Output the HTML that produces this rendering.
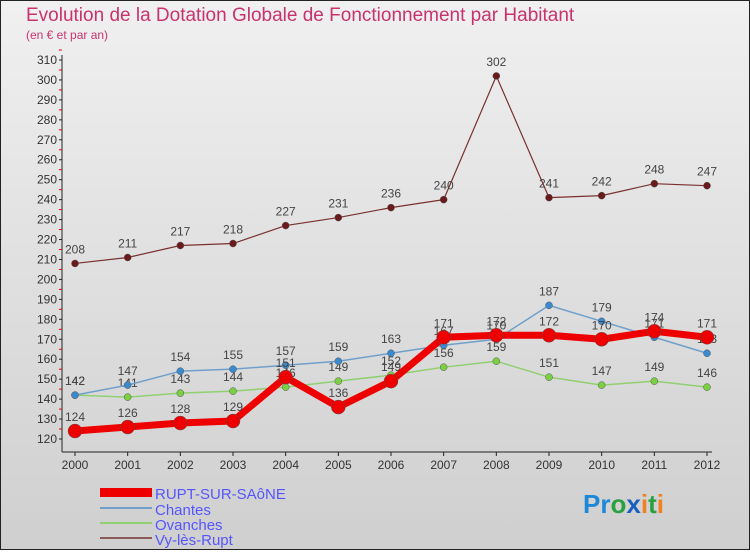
<!DOCTYPE html>
<html><head><meta charset="utf-8"><style>
body{margin:0;width:750px;height:550px;overflow:hidden;font-family:"Liberation Sans",sans-serif}
svg text{font-family:"Liberation Sans",sans-serif}
</style></head><body>
<svg id="c" width="750" height="550" xmlns="http://www.w3.org/2000/svg">
<defs><linearGradient id="bg" x1="0" y1="0" x2="0" y2="1"><stop offset="0" stop-color="#f0f0f0"/><stop offset="1" stop-color="#cfcfcf"/></linearGradient></defs>
<rect x="0.5" y="0.5" width="749" height="549" fill="url(#bg)" stroke="#222"/>
<text x="26" y="21" font-size="19" fill="#c8336e">Evolution de la Dotation Globale de Fonctionnement par Habitant</text>
<text x="26" y="39" font-size="12" fill="#c8336e">(en € et par an)</text>
<g id="axes"></g><g id="series"></g>
<g>
<rect x="100" y="488" width="52" height="9" fill="#ee0000"/>
<text x="155" y="499" font-size="15" fill="#5555ff">RUPT-SUR-SAôNE</text>
<rect x="100" y="507" width="52" height="2" fill="#6fa0cc"/>
<text x="155" y="515" font-size="15" fill="#5555ff">Chantes</text>
<rect x="100" y="522" width="52" height="2" fill="#90d070"/>
<text x="155" y="530" font-size="15" fill="#5555ff">Ovanches</text>
<rect x="100" y="537" width="52" height="2" fill="#8a5a5a"/>
<text x="155" y="545" font-size="15" fill="#5555ff">Vy-lès-Rupt</text>
</g>
<g font-size="26" font-weight="bold">
<text x="583" y="513"><tspan fill="#1e88d8">Pr</tspan><tspan fill="#2aa040">o</tspan><tspan fill="#1a5fc0">x</tspan><tspan fill="#f08020">i</tspan><tspan fill="#2aa040">t</tspan><tspan fill="#f08020">i</tspan></text>
</g>
</svg>
<script>
const years=[2000,2001,2002,2003,2004,2005,2006,2007,2008,2009,2010,2011,2012];
const rupt=[124,126,128,129,151,136,149,171,172,172,170,174,171];
const chantes=[142,147,154,155,157,159,163,167,170,187,179,171,163];
const ovanches=[142,141,143,144,146,149,152,156,159,151,147,149,146];
const vy=[208,211,217,218,227,231,236,240,302,241,242,248,247];
const yTicks=[120,130,140,150,160,170,180,190,200,210,220,230,240,250,260,270,280,290,300,310];
const NS="http://www.w3.org/2000/svg";
function X(i){return 75+i*(707-75)/12;}
function Y(v){return 439-(v-120)*(439-60)/190;}
function mk(tag,attrs,parent){const e=document.createElementNS(NS,tag);for(const k in attrs)e.setAttribute(k,attrs[k]);parent.appendChild(e);return e;}
const ax=document.getElementById('axes');
const yl=mk('line',{x1:62,y1:55,x2:62,y2:452,stroke:'#222'},ax);


const xl=mk('line',{x1:62,y1:452,x2:712,y2:452,stroke:'#222'},ax);


yTicks.forEach(v=>{
 mk('line',{x1:59,y1:Y(v),x2:62,y2:Y(v),stroke:'#222'},ax);
 mk('line',{x1:59,y1:Y(v+5),x2:62,y2:Y(v+5),stroke:'#e00'},ax);
 const t=mk('text',{x:57,y:Y(v)+4,'font-size':12,'text-anchor':'end',fill:'#333'},ax);
 t.textContent=v;
 
 
});
years.forEach((y,i)=>{
 mk('line',{x1:X(i),y1:452,x2:X(i),y2:456,stroke:'#222'},ax);
 const t=mk('text',{x:X(i),y:469,'font-size':12,'text-anchor':'middle',fill:'#333'},ax);
 t.textContent=y;
 
 
});
const sg=document.getElementById('series');
function draw(data,name,color,w,r,dot){
 const g=mk('g',{},sg);
 
 
 const pl=mk('polyline',{points:data.map((v,i)=>X(i)+','+Y(v)).join(' '),fill:'none',stroke:color,'stroke-width':w,'stroke-linejoin':'round'},g);
 
 
 data.forEach((v,i)=>{
  const c=mk('circle',{cx:X(i),cy:Y(v),r:r,fill:dot,stroke:'#555','stroke-width':0.5},g);
  
  
  const t=mk('text',{x:X(i),y:Y(v)-10,'font-size':12,'text-anchor':'middle',fill:'#444'},g);
  t.textContent=v;
  
  
 });
}
draw(vy,'vy','#7a3030',1.2,3.5,'#6a1a1a');
draw(ovanches,'ovanches','#90d070',1.5,3.5,'#7ad040');
draw(chantes,'chantes','#6fa0cc',1.5,3.5,'#3a8ad0');
draw(rupt,'rupt','#ee0000',7,7,'#ee0000');
</script>
</body></html>
